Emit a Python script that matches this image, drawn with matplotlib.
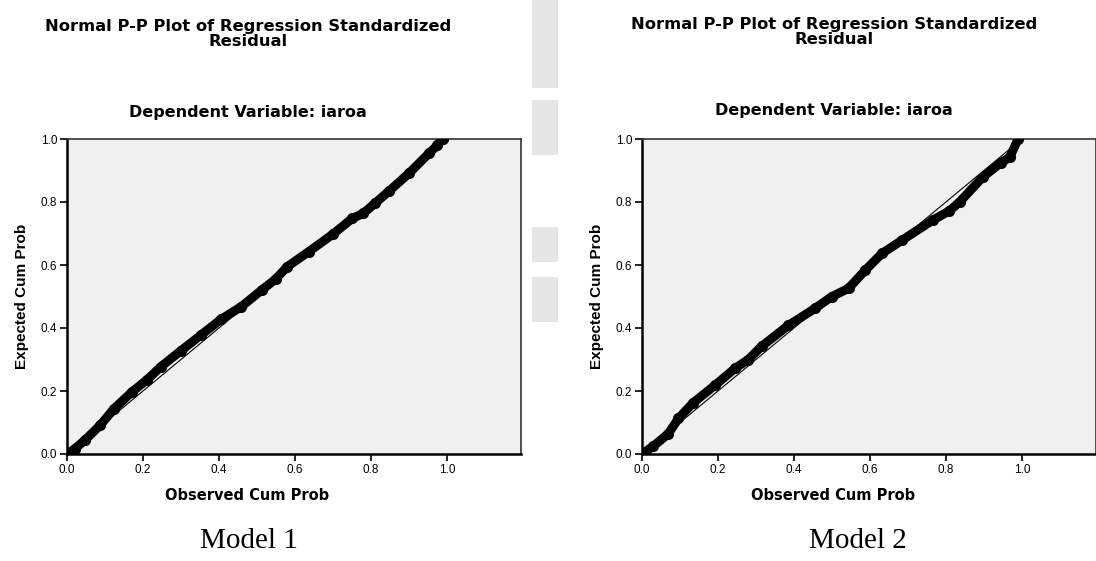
import matplotlib
matplotlib.use("Agg")
import matplotlib.pyplot as plt
from matplotlib.patches import Rectangle

plt.rcParams['font.family'] = ['Liberation Sans', 'DejaVu Sans']

# ---- data ----
obs_m1 = [0.0, 0.02, 0.048, 0.088, 0.123, 0.172, 0.211, 0.247, 0.30, 0.353, 0.406,
          0.459, 0.512, 0.55, 0.58, 0.636, 0.70, 0.751, 0.78, 0.812, 0.848, 0.901,
          0.954, 0.975, 0.989]
exp_m1 = [0.0, 0.016, 0.045, 0.092, 0.143, 0.198, 0.236, 0.277, 0.328, 0.378, 0.428,
          0.468, 0.52, 0.556, 0.595, 0.642, 0.698, 0.748, 0.764, 0.797, 0.835, 0.892,
          0.956, 0.98, 1.0]

obs_m2 = [0.0, 0.03, 0.069, 0.096, 0.135, 0.192, 0.245, 0.28, 0.315, 0.385, 0.455,
          0.50, 0.544, 0.588, 0.632, 0.685, 0.765, 0.809, 0.836, 0.897, 0.945,
          0.968, 0.99]
exp_m2 = [0.0, 0.025, 0.064, 0.113, 0.163, 0.218, 0.272, 0.3, 0.342, 0.408, 0.462,
          0.50, 0.526, 0.584, 0.637, 0.679, 0.742, 0.772, 0.80, 0.879, 0.925,
          0.942, 1.0]

ticks = [0.0, 0.2, 0.4, 0.6, 0.8, 1.0]
tick_labels = ["0.0", "0.2", "0.4", "0.6", "0.8", "1.0"]

title_text = "Normal P-P Plot of Regression Standardized\nResidual"
subtitle_text = "Dependent Variable: iaroa"
xlabel_text = "Observed Cum Prob"
ylabel_text = "Expected Cum Prob"
model_names = ["Model 1", "Model 2"]

W, H = 1096, 561
fig = plt.figure(figsize=(W / 100, H / 100), dpi=100)
fig.patch.set_facecolor("white")

def fx(px):
    return px / W

def fy(py):
    return 1 - py / H

# faint background watermark blocks (strip between the panels)
for (y0, y1) in [(0, 88), (100, 155), (227, 262), (277, 322)]:
    fig.patches.append(Rectangle((fx(532), fy(y1)), 26 / W, (y1 - y0) / H,
                                 transform=fig.transFigure, facecolor="#E6E6E6",
                                 edgecolor="none", zorder=0))

panels = [
    dict(left=67, obs=obs_m1, exp=exp_m1, cx=248, title_y=34, sub_y=113,
         ylab_x=22, xlab_x=247, model_x=249),
    dict(left=642, obs=obs_m2, exp=exp_m2, cx=834, title_y=32, sub_y=111,
         ylab_x=597, xlab_x=833, model_x=858),
]

top_px, bot_px = 139, 454
width_px = 454
hfont = ["DejaVu Sans"]

for i, p in enumerate(panels):
    ax = fig.add_axes([fx(p["left"]), fy(bot_px), width_px / W, (bot_px - top_px) / H])
    ax.set_facecolor("#F0F0F0")
    ax.set_xlim(0, 1.195)
    ax.set_ylim(0, 1.0)
    # reference diagonal
    ax.plot([0, 1], [0, 1], color="black", lw=0.8, zorder=2)
    # observed points (thick band of markers)
    ax.plot(p["obs"], p["exp"], color="black", lw=6.5, solid_capstyle="round",
            solid_joinstyle="round", zorder=3)
    ax.plot(p["obs"], p["exp"], "o", color="black", ms=7, zorder=4)
    ax.set_xticks(ticks)
    ax.set_xticklabels(tick_labels)
    ax.set_yticks(ticks)
    ax.set_yticklabels(tick_labels)
    ax.tick_params(direction="out", length=5, width=1.2, labelsize=8.5,
                   colors="black", pad=2)
    for s in ["left", "bottom"]:
        ax.spines[s].set_linewidth(1.8)
        ax.spines[s].set_color("black")
    for s in ["top", "right"]:
        ax.spines[s].set_linewidth(1.2)
        ax.spines[s].set_color("#333333")

    fig.text(fx(p["cx"]), fy(p["title_y"]), title_text, ha="center", va="center",
             fontsize=11.8, fontweight="bold", linespacing=1.0, family=hfont)
    fig.text(fx(p["cx"]), fy(p["sub_y"]), subtitle_text, ha="center", va="center",
             fontsize=11.5, fontweight="bold", family=hfont)
    fig.text(fx(p["ylab_x"]), fy((top_px + bot_px) / 2), ylabel_text, ha="center",
             va="center", rotation=90, fontsize=11, fontweight="bold")
    fig.text(fx(p["xlab_x"]), fy(495), xlabel_text, ha="center", va="center",
             fontsize=10.5, fontweight="bold", family=hfont)
    fig.text(fx(p["model_x"]), fy(541), model_names[i], ha="center", va="center",
             fontsize=21, family=["Liberation Serif", "DejaVu Serif"])

fig.savefig("out.png", dpi=100, facecolor="white")
